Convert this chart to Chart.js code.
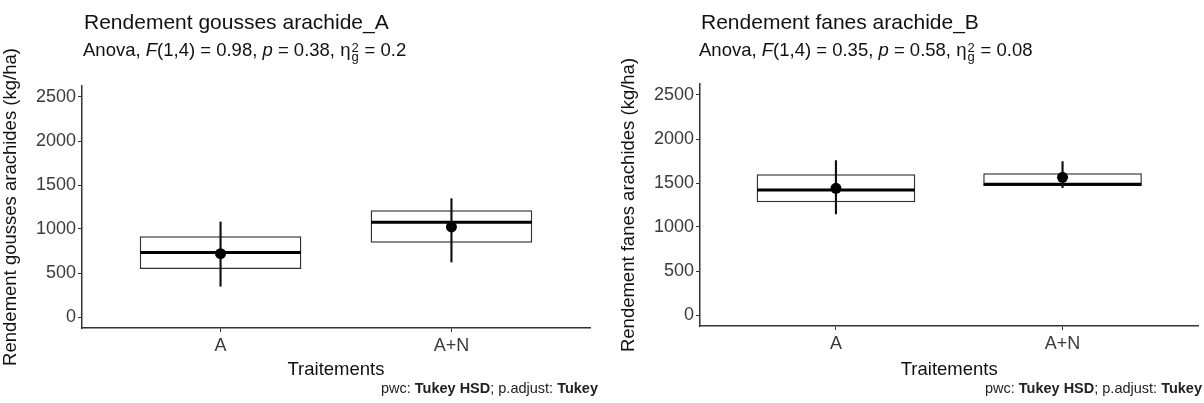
<!DOCTYPE html>
<html><head><meta charset="utf-8">
<script src="https://cdn.jsdelivr.net/npm/chart.js@4.4.1/dist/chart.umd.min.js"></script>
<style>
html,body{margin:0;padding:0;background:#fff;}
body{width:1204px;height:403px;position:relative;overflow:hidden;font-family:"Liberation Sans",Arial,sans-serif;}
canvas{position:absolute;top:0;}
.t{position:absolute;white-space:nowrap;color:#111;}
.title{font-size:21px;line-height:21px;top:11px;}
.sub{font-size:18.5px;line-height:18.5px;top:41px;}
.foot{font-size:14.5px;line-height:14.5px;top:381px;color:#222;}
.ss{display:inline-block;position:relative;width:9px;height:0;}
.ss span{position:absolute;left:1px;font-size:13px;line-height:13px;}
.ss .sp{top:-15px;}
.ss .sb{top:-6px;}
</style>
</head><body>
<canvas id="cA" width="602" height="403" style="left:0;width:602px;height:403px"></canvas>
<canvas id="cB" width="602" height="403" style="left:602px;width:602px;height:403px"></canvas>

<div class="t title" style="left:84px">Rendement gousses arachide_A</div>
<div class="t sub" style="left:83px">Anova, <i>F</i>(1,4) = 0.98, <i>p</i> = 0.38, η<span class="ss"><span class="sp">2</span><span class="sb">g</span></span> = 0.2</div>
<div class="t foot" style="right:606px">pwc: <b>Tukey HSD</b>; p.adjust: <b>Tukey</b></div>

<div class="t title" style="left:701px">Rendement fanes arachide_B</div>
<div class="t sub" style="left:699px">Anova, <i>F</i>(1,4) = 0.35, <i>p</i> = 0.58, η<span class="ss"><span class="sp">2</span><span class="sb">g</span></span> = 0.08</div>
<div class="t foot" style="right:2px">pwc: <b>Tukey HSD</b>; p.adjust: <b>Tukey</b></div>

<script>
// ---- data ----
const categories = ['A', 'A+N'];
const catPositions = [1, 2];
const yTickValues = [0, 500, 1000, 1500, 2000, 2500];
const xTitle = 'Traitements';

// Panel A : Rendement gousses
const goussesLabel = 'Rendement gousses arachides (kg/ha)';
const goussesBoxLow  = [545, 845];
const goussesBoxHigh = [917, 1212];
const goussesMedian  = [732, 1076];
const goussesMean    = [720, 1023];
const goussesErrLow  = [349, 625];
const goussesErrHigh = [1080, 1345];

// Panel B : Rendement fanes
const fanesLabel = 'Rendement fanes arachides (kg/ha)';
const fanesBoxLow  = [1280, 1466];
const fanesBoxHigh = [1599, 1610];
const fanesMedian  = [1420, 1485];
const fanesMean    = [1439, 1565];
const fanesErrLow  = [1148, 1447];
const fanesErrHigh = [1754, 1742];

const FONT = "'Liberation Sans', Arial, sans-serif";
Chart.defaults.font.family = FONT;

const medianPlugin = {
  id: 'median',
  afterDatasetDraw(chart, args, opts) {
    if (args.index !== 0) return;
    const ys = chart.scales.y, ctx = chart.ctx;
    ctx.save();
    ctx.strokeStyle = '#000';
    ctx.lineWidth = 3;
    args.meta.data.forEach((bar, i) => {
      const p = bar.getProps(['x', 'width'], true);
      const py = ys.getPixelForValue(opts.values[i]);
      ctx.beginPath();
      ctx.moveTo(p.x - p.width / 2 + 0.5, py);
      ctx.lineTo(p.x + p.width / 2 - 0.5, py);
      ctx.stroke();
    });
    ctx.restore();
  }
};

function makePanel(id, d, g) {
  const tickFont = { family: FONT, size: 18 };
  const titleFont = { family: FONT, size: 18.5 };
  new Chart(document.getElementById(id), {
    type: 'bar',
    data: {
      datasets: [
        { type: 'bar', data: catPositions.map((x, i) => ({ x, y: [d.boxLow[i], d.boxHigh[i]] })),
          backgroundColor: '#ffffff', borderColor: '#333333', borderWidth: 1.5, borderSkipped: false,
          grouped: false, categoryPercentage: 1, barPercentage: 0.7, order: 3 },
        { type: 'bar', data: catPositions.map((x, i) => ({ x, y: [d.errLow[i], d.errHigh[i]] })),
          backgroundColor: '#111111', borderWidth: 0, grouped: false, barThickness: 1.5, order: 2 },
        { type: 'line', data: catPositions.map((x, i) => ({ x, y: d.mean[i] })),
          showLine: false, pointRadius: 5.5, pointBackgroundColor: '#000', pointBorderWidth: 0, order: 1 }
      ]
    },
    options: {
      responsive: false, animation: false, devicePixelRatio: 1,
      layout: { padding: { left: 0, right: g.pr, top: g.pt, bottom: 0 } },
      plugins: { legend: { display: false }, tooltip: { enabled: false }, median: { values: d.median } },
      scales: {
        x: {
          type: 'linear', min: 0.4, max: 2.6, offset: false,
          afterBuildTicks: s => { s.ticks = catPositions.map(v => ({ value: v })); },
          afterFit: s => { s.height = g.xh; },
          ticks: { font: tickFont, color: '#3b3b3b', padding: 3, autoSkip: false, maxRotation: 0,
                   callback: (v, i) => categories[i] },
          grid: { offset: false, drawOnChartArea: false, drawTicks: true, tickLength: 4, color: '#333', lineWidth: 1 },
          border: { display: true, color: '#333', width: 1.5 },
          title: { display: true, text: xTitle, font: titleFont, color: '#111', padding: { top: 0, bottom: 22 } }
        },
        y: {
          type: 'linear', min: -125, max: 2625,
          afterBuildTicks: s => { s.ticks = yTickValues.map(v => ({ value: v })); },
          afterFit: s => { s.width = g.yw; },
          ticks: { font: tickFont, color: '#3b3b3b', padding: 2, callback: v => String(v) },
          grid: { drawOnChartArea: false, drawTicks: true, tickLength: 4, color: '#333', lineWidth: 1 },
          border: { display: true, color: '#333', width: 1.5 },
          title: { display: true, text: d.label, font: titleFont, color: '#111', padding: { top: g.ytp, bottom: 0 } }
        }
      }
    },
    plugins: [medianPlugin]
  });
}

makePanel('cA', {
  label: goussesLabel, boxLow: goussesBoxLow, boxHigh: goussesBoxHigh, median: goussesMedian,
  mean: goussesMean, errLow: goussesErrLow, errHigh: goussesErrHigh
}, { yw: 82, pr: 12, pt: 86, xh: 75, ytp: 0 });

makePanel('cB', {
  label: fanesLabel, boxLow: fanesBoxLow, boxHigh: fanesBoxHigh, median: fanesMedian,
  mean: fanesMean, errLow: fanesErrLow, errHigh: fanesErrHigh
}, { yw: 98, pr: 2, pt: 84, xh: 77, ytp: 16 });
</script>
</body></html>
